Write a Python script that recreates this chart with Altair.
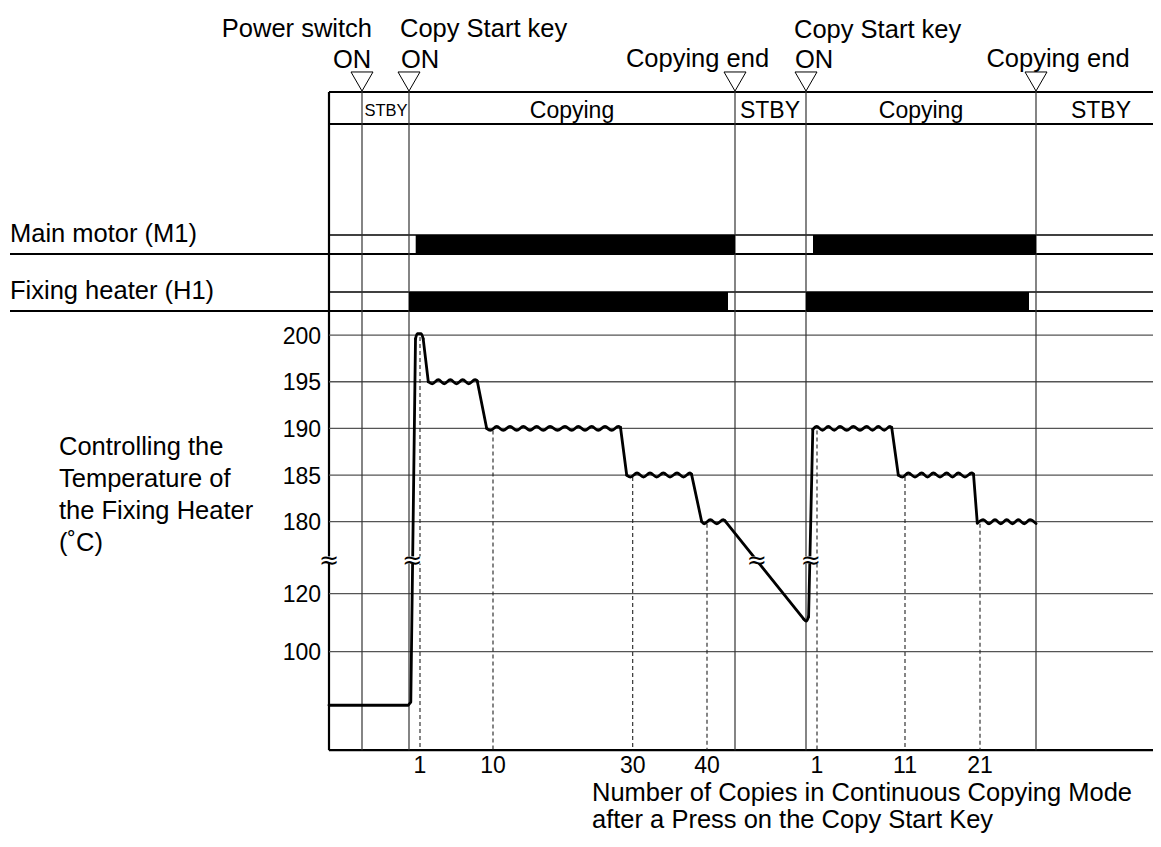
import altair as alt
import pandas as pd

# ---------------- data (time in arbitrary units along the timeline) ----------------
event_t = [362, 409, 735, 806, 1036]
event_top = ["Power switch", "Copy Start key", "", "Copy Start key", ""]
event_bottom = ["ON", "ON", "Copying end", "ON", "Copying end"]

phase_names = ["STBY", "Copying", "STBY", "Copying", "STBY"]
phase_center = [386, 572, 770, 921, 1101]

motor_start = [415.7, 813]
motor_end = [735, 1036]
heater_start = [409, 806]
heater_end = [728, 1029]

temp_ticks = [200, 195, 190, 185, 180, 120, 100]

copy_t = [420, 493, 632.7, 707, 817, 905, 980]
copy_labels = ["1", "10", "30", "40", "1", "11", "21"]
copy_temp = [200, 190, 185, 180, 190, 185, 180]

# temperature curve, piece by piece: ("line" = straight, "wave" = smooth ripple)
warmup_t, warmup_temp = [329, 408.3, 410.8, 415.5], [81.5, 81.5, 82.6, 199.6]
peak_t, peak_temp = [415.5, 417.3, 421.2, 423.2], [199.6, 200.15, 200.15, 199.6]
drop1_t, drop1_temp = [423.2, 428.3], [199.6, 195.0]
p195_t = [428.3, 432.2, 438.3, 444.2, 450.3, 456.5, 462.7, 468.8, 475.0, 477.2]
p195_temp = [195.0, 194.78, 195.22, 194.78, 195.22, 194.78, 195.22, 194.78, 195.22, 195.1]
drop2_t, drop2_temp = [477.2, 486.7], [195.1, 190.0]
p190a_t = [486.7, 490.3, 496.7, 503.3, 510.0, 516.7, 523.3, 530.0, 536.7, 543.3, 550.0,
           557.5, 565.0, 571.7, 578.3, 585.0, 591.7, 598.3, 605.0, 611.7, 618.3, 620.5]
p190a_temp = [190.0, 189.78, 190.22, 189.78, 190.22, 189.78, 190.22, 189.78, 190.22, 189.78, 190.22,
              189.78, 190.22, 189.78, 190.22, 189.78, 190.22, 189.78, 190.22, 189.78, 190.22, 190.1]
drop3_t, drop3_temp = [620.5, 626.7], [190.1, 185.0]
p185a_t = [626.7, 630.5, 637.0, 643.5, 650.0, 656.7, 663.3, 670.0, 677.0, 683.5, 690.0, 691.5]
p185a_temp = [185.0, 184.78, 185.22, 184.78, 185.22, 184.78, 185.22, 184.78, 185.22, 184.78, 185.22, 185.1]
drop4_t, drop4_temp = [691.5, 701.7], [185.1, 180.0]
p180a_t = [701.7, 704.2, 710.3, 716.8, 723.3, 725.0]
p180a_temp = [180.0, 179.78, 180.22, 179.78, 180.22, 180.1]
cool_t, cool_temp = [725.0, 803.8], [180.1, 111.2]
bottom_t, bottom_temp = [803.8, 806.3, 808.6], [111.2, 110.5, 112.0]
reheat_t, reheat_temp = [808.6, 812.8], [112.0, 189.9]
p190b_t = [812.8, 816.7, 822.5, 828.3, 834.2, 840.0, 846.7, 853.3, 860.0, 866.7, 872.5, 878.3,
           884.2, 890.0, 891.7]
p190b_temp = [189.9, 190.22, 189.78, 190.22, 189.78, 190.22, 189.78, 190.22, 189.78, 190.22, 189.78, 190.22,
              189.78, 190.22, 190.1]
drop5_t, drop5_temp = [891.7, 898.3], [190.1, 185.0]
p185b_t = [898.3, 902.5, 908.3, 915.0, 921.7, 927.5, 933.3, 940.0, 946.7, 952.5, 958.3, 965.0,
           971.7, 973.5]
p185b_temp = [185.0, 184.78, 185.22, 184.78, 185.22, 184.78, 185.22, 184.78, 185.22, 184.78, 185.22, 184.78,
              185.22, 185.1]
drop6_t, drop6_temp = [973.5, 977.3], [185.1, 179.85]
p180b_t = [977.3, 983.3, 989.0, 995.0, 1000.8, 1006.7, 1012.5, 1018.3, 1024.2, 1030.0, 1036.0]
p180b_temp = [179.85, 180.22, 179.78, 180.22, 179.78, 180.22, 179.78, 180.22, 179.78, 180.22, 179.8]

pieces = [
    ("line", warmup_t, warmup_temp), ("wave", peak_t, peak_temp), ("line", drop1_t, drop1_temp),
    ("wave", p195_t, p195_temp), ("line", drop2_t, drop2_temp), ("wave", p190a_t, p190a_temp),
    ("line", drop3_t, drop3_temp), ("wave", p185a_t, p185a_temp), ("line", drop4_t, drop4_temp),
    ("wave", p180a_t, p180a_temp), ("line", cool_t, cool_temp), ("wave", bottom_t, bottom_temp),
    ("line", reheat_t, reheat_temp), ("wave", p190b_t, p190b_temp), ("line", drop5_t, drop5_temp),
    ("wave", p185b_t, p185b_temp), ("line", drop6_t, drop6_temp), ("wave", p180b_t, p180b_temp),
]

axis_min_temp = 66
break_t = [329, 412.3, 756.7, 810.8]

# ---------------- layout constants ----------------
W, H = 1145, 826
AX = 329          # left edge of the timing grid
RIGHT = 1161
TOP = 92
PHASE_BOTTOM = 124
MOTOR = (235, 254)
HEATER = (292, 311)
BREAK_Y = 560
FONT = "Liberation Sans"


def ty(temp):
    """broken temperature axis -> vertical position"""
    if temp >= 150:
        return 521.7 - (temp - 180) * 9.33
    return 593.6 + (120 - temp) * 2.9


BASE = ty(axis_min_temp)

xs = alt.Scale(domain=[8, 8 + W], nice=False, zero=False)
ys = alt.Scale(domain=[8, 8 + H], reverse=True, nice=False, zero=False)


def X(f="x"):
    return alt.X(f"{f}:Q", scale=xs, axis=None)


def Y(f="y"):
    return alt.Y(f"{f}:Q", scale=ys, axis=None)


# ---------- rules (frame, rows, grid) ----------
rules = [
    (AX, RIGHT, TOP, TOP, 2.0, "#000"),
    (AX, RIGHT, PHASE_BOTTOM, PHASE_BOTTOM, 2.0, "#000"),
    (AX, RIGHT, MOTOR[0], MOTOR[0], 1.5, "#000"),
    (10, RIGHT, MOTOR[1], MOTOR[1], 2.0, "#000"),
    (AX, RIGHT, HEATER[0], HEATER[0], 1.5, "#000"),
    (10, RIGHT, HEATER[1], HEATER[1], 2.0, "#000"),
    (AX, RIGHT, BASE, BASE, 2.2, "#000"),
    (AX, AX, TOP, BASE, 2.2, "#000"),
]
for T in temp_ticks:
    rules.append((AX, RIGHT, ty(T), ty(T), 1.3, "#555"))
for t in event_t:
    rules.append((t, t, TOP - 1, BASE, 1.2, "#333"))
rules_df = pd.DataFrame(rules, columns=["x", "x2", "y", "y2", "w", "c"])

rule_layer = alt.Chart(rules_df).mark_rule().encode(
    x=X(), x2="x2:Q", y=Y(), y2="y2:Q",
    strokeWidth=alt.StrokeWidth("w:Q", scale=None),
    color=alt.Color("c:N", scale=None),
)

dash_df = pd.DataFrame({"x": copy_t, "y": [ty(T) + 2 for T in copy_temp], "y2": [BASE] * len(copy_t)})
dash_layer = alt.Chart(dash_df).mark_rule(strokeDash=[4, 3], strokeWidth=1.1, color="#222").encode(
    x=X(), y=Y(), y2="y2:Q")

# ---------- on/off bars ----------
bars_df = pd.DataFrame({
    "x": motor_start + heater_start,
    "x2": motor_end + heater_end,
    "y": [MOTOR[0]] * 2 + [HEATER[0]] * 2,
    "y2": [MOTOR[1]] * 2 + [HEATER[1]] * 2,
})
bar_layer = alt.Chart(bars_df).mark_rect(color="black").encode(x=X(), x2="x2:Q", y=Y(), y2="y2:Q")

# ---------- temperature curve ----------
rows = []
for i, (kind, ts, temps) in enumerate(pieces):
    for j, (t, T) in enumerate(zip(ts, temps)):
        rows.append({"seg": i, "kind": kind, "o": j, "x": t, "y": ty(T)})
curve_df = pd.DataFrame(rows)


def curve_layer(kind, interp):
    return alt.Chart(curve_df[curve_df["kind"] == kind]).mark_line(
        color="black", strokeWidth=2.8, interpolate=interp, strokeJoin="round", strokeCap="round"
    ).encode(x=X(), y=Y(), detail="seg:N", order="o:Q")


# ---------- break marks ----------
brk_df = pd.DataFrame({"x": break_t, "y": [BREAK_Y] * len(break_t), "t": ["≈"] * len(break_t)})
brk_bg = alt.Chart(brk_df).mark_point(shape="M-1,-0.4H1V0.4H-1Z", size=324, filled=True,
                                       fill="white", opacity=1, strokeWidth=0).encode(x=X(), y=Y())
brk_txt = alt.Chart(brk_df).mark_text(font="DejaVu Sans", fontSize=24, baseline="middle", align="center",
                                      color="black", dy=1).encode(x=X(), y=Y(), text="t:N")

# ---------- triangles ----------
tri_df = pd.DataFrame({"x": event_t, "y": [TOP - 10.5] * len(event_t)})
tri_layer = alt.Chart(tri_df).mark_point(shape="triangle-down", size=484, filled=True, fill="white",
                                         stroke="black", strokeWidth=1, opacity=1).encode(x=X(), y=Y())

# ---------- texts ----------
BIG = 25.5
SMALL = 23
left_txt = [
    (10, 232.5, "Main motor (M1)", BIG),
    (10, 289.5, "Fixing heater (H1)", BIG),
    (59, 445, "Controlling the", BIG),
    (59, 477.5, "Temperature of", BIG),
    (59, 509.5, "the Fixing Heater", BIG),
    (59, 541.5, "(˚C)", BIG),
    (592, 791, "Number of Copies in Continuous Copying Mode", BIG),
    (592, 818, "after a Press on the Copy Start Key", BIG),
    (400, 27, event_top[1], BIG),
    (794, 28, event_top[3], BIG),
    (333, 58, event_bottom[0], BIG),
    (401, 58, event_bottom[1], BIG),
    (795, 58, event_bottom[3], BIG),
]
right_txt = [(372, 27, event_top[0], BIG)] + [(321, ty(T), str(T), SMALL) for T in temp_ticks]
center_txt = [(697.5, 57, event_bottom[2], BIG), (1058, 57, event_bottom[4], BIG)]
center_txt += [(c, 109, n, 16.5 if i == 0 else SMALL) for i, (c, n) in enumerate(zip(phase_center, phase_names))]
center_txt += [(t, 764, l, SMALL) for t, l in zip(copy_t, copy_labels)]


def text_layer(rows, align):
    df = pd.DataFrame(rows, columns=["x", "y", "t", "s"])
    df["y"] = df["y"] + 1.5
    return alt.Chart(df).mark_text(font=FONT, align=align, baseline="middle", color="black").encode(
        x=X(), y=Y(), text="t:N", size=alt.Size("s:Q", scale=None))


chart = alt.layer(
    rule_layer, dash_layer, bar_layer, curve_layer("line", "linear"), curve_layer("wave", "monotone"),
    brk_bg, brk_txt, tri_layer,
    text_layer(left_txt, "left"), text_layer(right_txt, "right"), text_layer(center_txt, "center"),
).properties(
    width=W, height=H, padding=0, autosize=alt.AutoSizeParams(type="none"), background="white"
).configure_view(stroke=None)

chart.save("out.html", embed_options={"renderer": "svg", "actions": False})
